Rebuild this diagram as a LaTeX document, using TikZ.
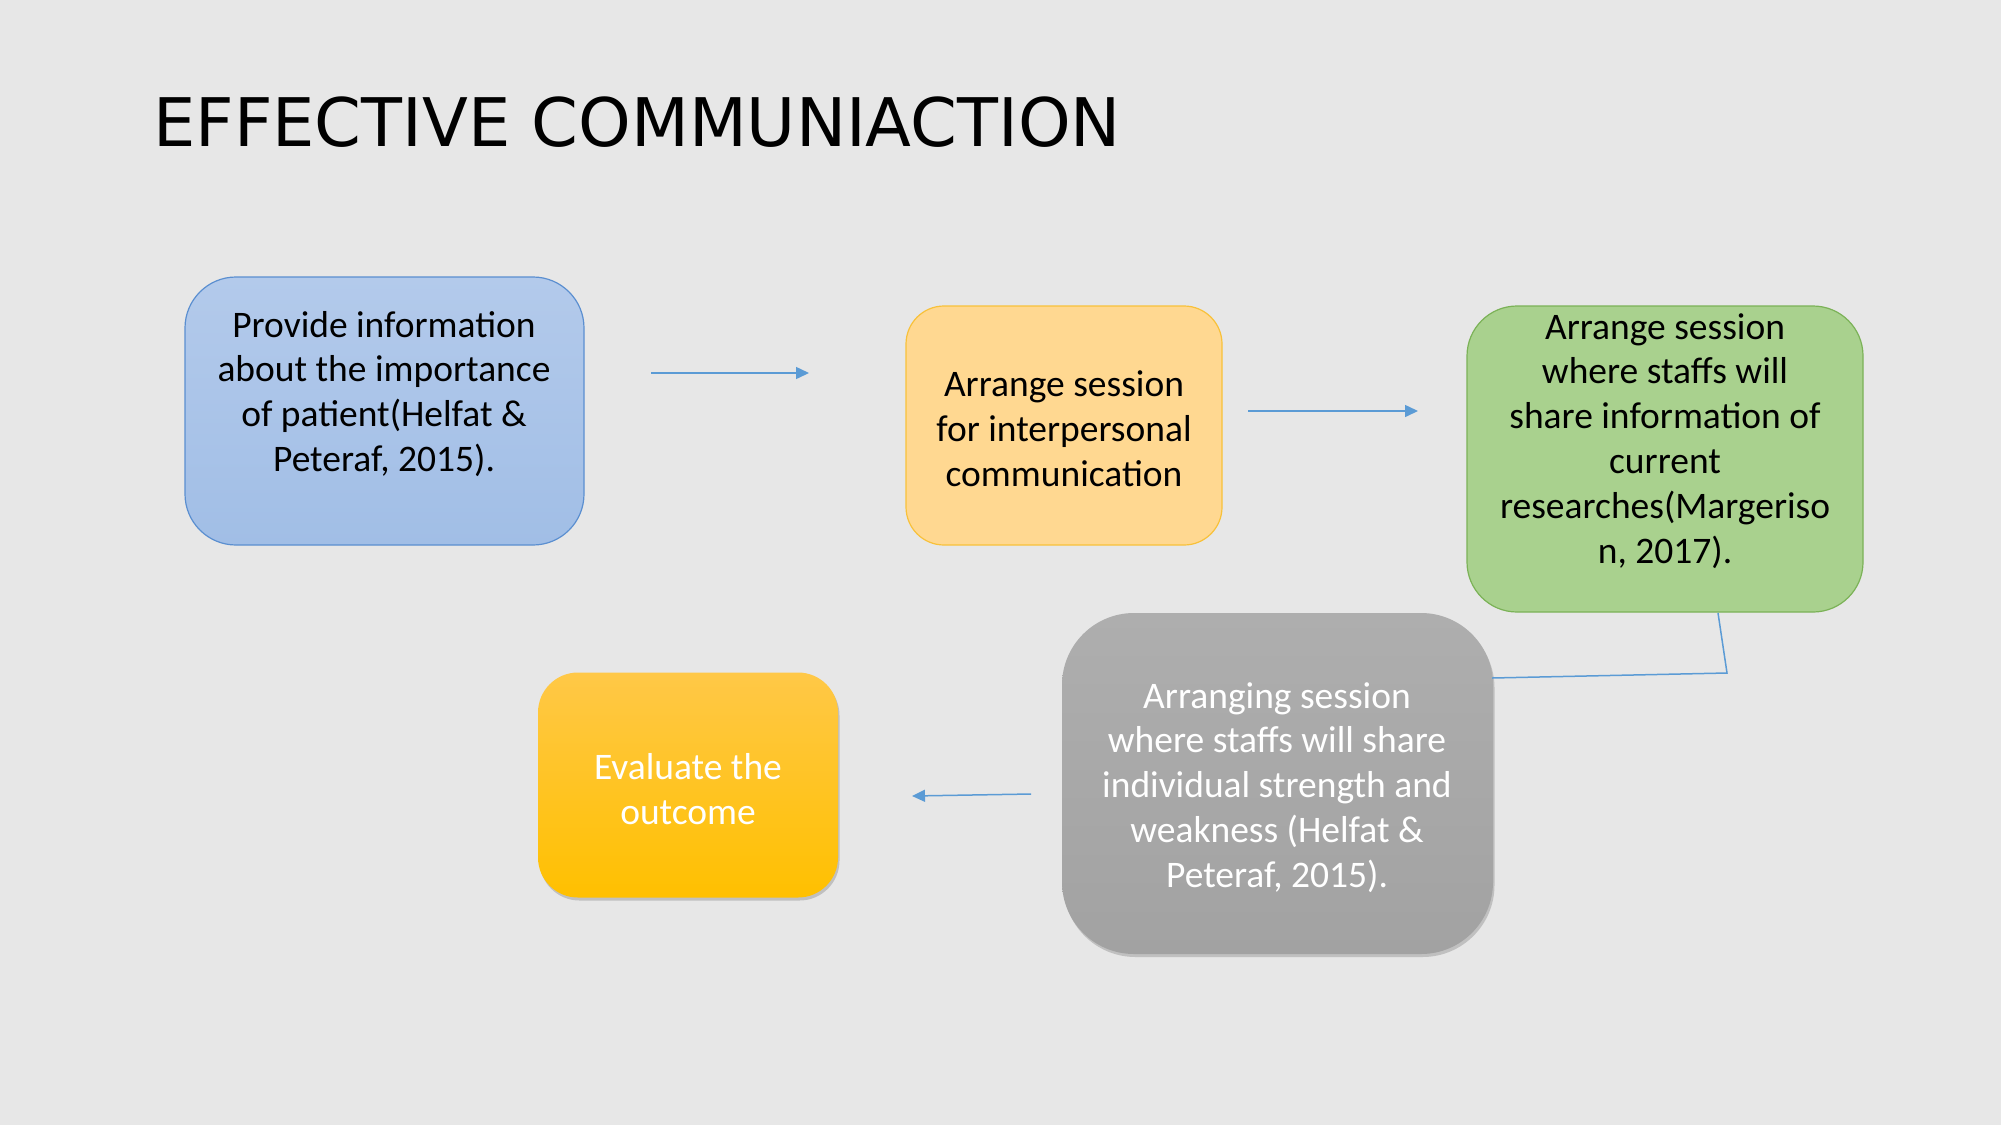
\documentclass[tikz,border=0pt]{standalone}
\usepackage{fontspec}
\setmainfont{Carlito}
\newfontfamily\titlefont{DejaVu Sans}
\usetikzlibrary{arrows.meta,shadows}
\definecolor{bgc}{HTML}{E7E7E7}
\definecolor{bluetop}{HTML}{B3CAEB}
\definecolor{bluebot}{HTML}{A1BEE6}
\definecolor{blueline}{HTML}{5B8FD0}
\definecolor{orfill}{HTML}{FFD891}
\definecolor{orline}{HTML}{F8C13A}
\definecolor{grfill}{HTML}{A9D18E}
\definecolor{grline}{HTML}{7BB257}
\definecolor{graytop}{HTML}{AEAEAE}
\definecolor{graybot}{HTML}{A2A2A2}
\definecolor{yeltop}{HTML}{FFC847}
\definecolor{yelbot}{HTML}{FFC000}
\definecolor{arr}{HTML}{5B9BD5}
\tikzset{
  boxbase/.style={rectangle, inner sep=0pt, line width=1.2pt},
  txt/.style={align=center, font=\fontsize{37.5}{44.9}\selectfont, inner sep=0pt},
  conn/.style={draw=arr, line width=1.5pt},
  tipped/.style={conn, -{Triangle[length=13pt,width=12pt]}},
  softshadow/.style={drop shadow={opacity=0.3, shadow xshift=1.5pt, shadow yshift=-3pt, fill=black!60}},
}
\begin{document}
\begin{tikzpicture}[x=1pt,y=-1pt]
\fill[bgc] (0,0) rectangle (2001,1125);
\useasboundingbox (0,0) rectangle (2001,1125);

\node[anchor=base west, inner sep=0pt] (title) at (153,146)
  {\titlefont\fontsize{67}{80}\selectfont EFFECTIVE COMMUNIACTION};

% boxes
\node[boxbase, draw=blueline, top color=bluetop, bottom color=bluebot,
  rounded corners=51pt, minimum width=399pt, minimum height=268pt] (b1) at (384.5,411) {};
\node[boxbase, draw=orline, fill=orfill,
  rounded corners=38pt, minimum width=316pt, minimum height=239pt] (b2) at (1064,425.5) {};
\node[boxbase, draw=grline, fill=grfill,
  rounded corners=50pt, minimum width=396pt, minimum height=306pt] (b3) at (1665,459) {};
\node[boxbase, softshadow, top color=graytop, bottom color=graybot,
  rounded corners=72pt, minimum width=431pt, minimum height=341pt] (b4) at (1277.5,783.5) {};
\node[boxbase, softshadow, top color=yeltop, bottom color=yelbot,
  rounded corners=40pt, minimum width=300pt, minimum height=225pt] (b5) at (688,785) {};

% texts
\node[txt] (b1t) at (384,394) {Provide information\\about the importance\\of patient(Helfat \&\\Peteraf, 2015).};
\node[txt] (b2t) at (1064,429) {Arrange session\\for interpersonal\\communication};
\node[txt] (b3t) at (1665,441) {Arrange session\\where staffs will\\share information of\\current\\researches(Margeriso\\n, 2017).};
\node[txt, text=white] (b4t) at (1277,787.5) {Arranging session\\where staffs will share\\individual strength and\\weakness (Helfat \&\\Peteraf, 2015).};
\node[txt, text=white] (b5t) at (688,789) {Evaluate the\\outcome};

% connectors
\coordinate (a1s) at (651,373);
\coordinate (a1e) at (809,373);
\coordinate (a2s) at (1248,411);
\coordinate (a2e) at (1418,411);
\coordinate (c3a) at (1718,613);
\coordinate (c3b) at (1727,673);
\coordinate (c3c) at (1492,678);
\coordinate (a4s) at (1031,794);
\coordinate (a4e) at (912,796);
\draw[tipped] (a1s) -- (a1e);
\draw[tipped] (a2s) -- (a2e);
\draw[conn] (c3a) -- (c3b) -- (c3c);
\draw[tipped] (a4s) -- (a4e);
\end{tikzpicture}
\end{document}
